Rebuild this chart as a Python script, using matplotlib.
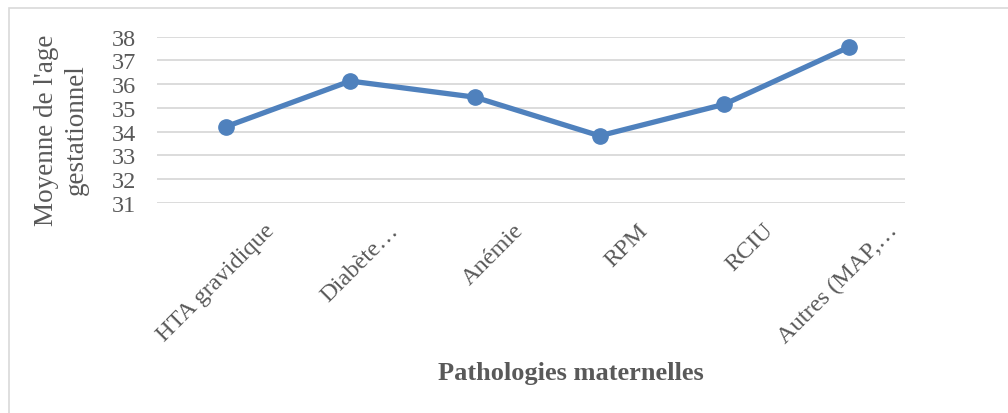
import matplotlib.pyplot as plt
import matplotlib.transforms as mtransforms
from matplotlib.patches import Rectangle
import numpy as np

plt.rcParams['font.family'] = ['Liberation Serif', 'DejaVu Serif']

# mean gestational age per maternal pathology
pathologies = ['HTA gravidique', 'Diabète…', 'Anémie', 'RPM', 'RCIU', 'Autres (MAP,…']
age_moyen = [34.2, 36.13, 35.45, 33.82, 35.15, 37.56]
y_ticks = [31, 32, 33, 34, 35, 36, 37, 38]

text_color = '#595959'
grid_color = '#D9D9D9'
line_color = '#4F81BD'

fig = plt.figure(figsize=(10.08, 4.14), dpi=100)
ax = fig.add_axes([157 / 1008, 1 - 203.7 / 414, 748 / 1008, 166 / 414])

x = np.arange(len(pathologies))
ax.plot(x, age_moyen, color=line_color, lw=3.8, marker='o', ms=11,
        solid_capstyle='round', zorder=3)

ax.set_xlim(-0.55, len(pathologies) - 0.55)
ax.set_ylim(31, 38)
ax.set_yticks(y_ticks)
ax.yaxis.grid(True, color=grid_color, lw=1.3)
ax.set_axisbelow(True)
for s in ax.spines.values():
    s.set_visible(False)

ax.tick_params(axis='y', length=0, pad=15, labelsize=17.5, labelcolor=text_color)
ax.tick_params(axis='x', length=0, pad=12, labelsize=17.5, labelcolor=text_color)
ax.set_xticks(x)
ax.set_xticklabels(pathologies, rotation=45, ha='right', va='top',
                   rotation_mode='anchor')
shift = mtransforms.ScaledTranslation(38 / 100, 0, fig.dpi_scale_trans)
for lab in ax.get_xticklabels():
    lab.set_transform(lab.get_transform() + shift)

# axis titles
fig.text(61 / 1008, 1 - 130 / 414, "Moyenne de l'age\ngestationnel",
         rotation=90, ha='center', va='center', multialignment='center',
         fontsize=19.5, color=text_color, linespacing=1.25)
fig.text(571 / 1008, 1 - 374 / 414, 'Pathologies maternelles',
         ha='center', va='center', fontsize=19, fontweight='bold',
         color=text_color)

# chart frame
fig.patches.append(Rectangle((8.5 / 1008, -0.5), 2, 1.5 - 8.5 / 414,
                             transform=fig.transFigure, fill=False,
                             edgecolor=grid_color, lw=1.2))

fig.savefig('out.png', dpi=100)
